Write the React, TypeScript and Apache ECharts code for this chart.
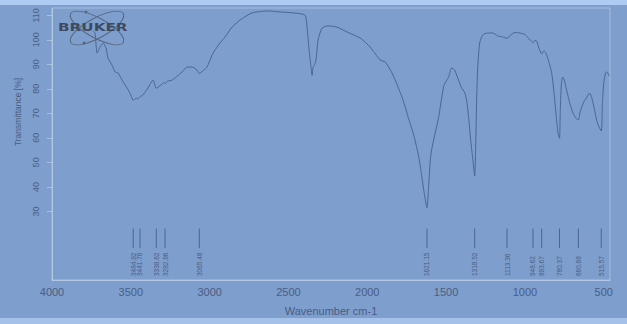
import { useEffect, useRef } from "react";
import * as echarts from "echarts";

// IR spectrum (wavenumber cm-1, transmittance %)
const wavenumbers = [
  3740, 3727, 3714, 3695, 3676, 3657, 3645, 3619, 3600, 3581, 3556, 3524, 3500, 3484.92, 3465, 3455, 3441.76, 3423,
  3391, 3359, 3338.62, 3315, 3300, 3290, 3282.96, 3265, 3240, 3220, 3175, 3143, 3112, 3085, 3065.48, 3040, 3017,
  2978, 2934, 2902, 2858, 2807, 2731, 2636, 2553, 2471, 2395, 2382, 2369, 2357, 2350, 2344, 2337, 2325, 2312, 2287,
  2249, 2192, 2128, 2046, 1982, 1919, 1887, 1843, 1805, 1773, 1741, 1709, 1678, 1660, 1640, 1621.15, 1612, 1600,
  1592, 1579, 1547, 1516, 1503, 1484, 1465, 1446, 1421, 1402, 1383, 1370, 1357, 1344, 1332, 1318.52, 1306, 1299,
  1287, 1268, 1236, 1204, 1172, 1141, 1113.36, 1094, 1062, 1031, 1000, 975, 960, 948.62, 938, 925, 910, 893.67,
  880, 868, 850, 830, 815, 800, 790, 780.37, 775, 768, 760, 750, 735, 715, 695, 675, 660.68, 650, 630, 610, 590,
  575, 558, 540, 515.57, 508, 500, 488, 478, 465,
];
const transmittance = [
  103.5, 102.8, 94.6, 97.1, 98.7, 96.7, 92.6, 89.7, 86.9, 86.5, 83.6, 80.4, 77.5, 75.3, 76.2, 75.9, 76.8, 77.5,
  80.4, 83.6, 80.2, 81.3, 82.0, 82.6, 82.3, 83.2, 83.5, 84.4, 86.9, 88.9, 88.9, 88.0, 86.3, 87.5, 88.9,
  94.6, 98.7, 101.2, 105.2, 108.1, 111.0, 111.8, 111.4, 111.0, 110.1, 105.2, 95.9, 88.9, 85.5, 88.9, 89.5, 91.8, 99.9, 104.8,
  105.7, 105.2, 103.2, 100.8, 97.1, 91.8, 91.0, 86.5, 80.8, 75.5, 68.5, 62.0, 53.8, 47.0, 38.0, 31.5, 38.5, 51.0,
  55.0, 59.1, 68.5, 80.8, 82.8, 84.8, 88.5, 87.7, 83.6, 80.4, 78.7, 75.5, 68.5, 59.1, 52.2, 44.5, 75.5, 88.9,
  98.7, 102.0, 102.8, 102.8, 101.6, 101.2, 100.6, 101.8, 103.0, 102.8, 102.2, 100.5, 99.5, 98.8, 99.8, 99.5, 96.5, 94.2,
  95.5, 94.8, 91.5, 86.5, 78.3, 68.0, 62.0, 59.8, 72.0, 82.5, 84.8, 83.6, 79.5, 74.2, 70.2, 68.0, 67.3, 70.5, 74.2, 76.3, 78.3,
  76.3, 71.4, 66.1, 62.8, 74.0, 82.4, 86.5, 86.9, 85.2,
];
const peakWavenumbers = [3484.92, 3441.76, 3338.62, 3282.96, 3065.48, 1621.15, 1318.52, 1113.36, 948.62, 893.67, 780.37, 660.68, 515.57];
const peakLabels = ["3484.92", "3441.76", "3338.62", "3282.96", "3065.48", "1621.15", "1318.52", "1113.36", "948.62", "893.67", "780.37", "660.68", "515.57"];
const xTickLabels = [4000, 3500, 3000, 2500, 2000, 1500, 1000, 500];
const yTickLabels = [30, 40, 50, 60, 70, 80, 90, 100, 110];

const TEXT = "#4a5d82";
const LINE = "#4b6794";
const FRAME = "rgba(205,218,238,0.55)";
const FONT = "Liberation Sans, Arial, sans-serif";

export default function App() {
  const ref = useRef<HTMLDivElement>(null);
  useEffect(() => {
    if (!ref.current) return;
    const chart = echarts.init(ref.current, null, { renderer: "svg" });
    const spectrum = wavenumbers.map((w, i) => [w, transmittance[i]]);
    chart.setOption({
      animation: false,
      backgroundColor: "#7e9ecd",
      textStyle: { fontFamily: FONT },
      grid: { left: 52, right: 17, top: 8, bottom: 44, show: true, borderColor: FRAME, borderWidth: 1 },
      xAxis: {
        type: "value",
        min: 460,
        max: 4000,
        inverse: true,
        name: "Wavenumber cm-1",
        nameLocation: "middle",
        nameGap: 25,
        nameTextStyle: { color: TEXT, fontSize: 11, fontFamily: FONT },
        axisLine: { show: true, lineStyle: { color: FRAME } },
        axisTick: { show: false },
        splitLine: { show: false },
        axisLabel: {
          customValues: xTickLabels,
          formatter: (v: number) => String(v),
          color: TEXT,
          fontSize: 11,
          margin: 6,
          fontFamily: FONT,
        },
      },
      yAxis: {
        type: "value",
        min: 2,
        max: 113,
        axisLine: { show: true, lineStyle: { color: FRAME } },
        axisTick: { show: true, customValues: yTickLabels, length: 5, lineStyle: { color: FRAME } },
        splitLine: { show: false },
        axisLabel: { customValues: yTickLabels, formatter: (v: number) => String(v), color: TEXT, fontSize: 9, rotate: 90, margin: 12, fontFamily: FONT },
      },
      graphic: [
        { type: "rect", left: 0, top: 0, shape: { width: 627, height: 5 }, style: { fill: "#aecbf3" }, silent: true },
        { type: "rect", left: 0, top: 318, shape: { width: 627, height: 6 }, style: { fill: "#a5c1e9" }, silent: true },
        {
          type: "text",
          x: 18,
          y: 112,
          rotation: Math.PI / 2,
          style: { text: "Transmittance [%]", fill: TEXT, fontSize: 8.5, fontFamily: FONT, align: "center", verticalAlign: "middle" },
        },
        {
          type: "group",
          children: [
            { type: "ellipse", x: 97, y: 28, rotation: 0.5, shape: { cx: 0, cy: 0, rx: 30, ry: 10 }, style: { fill: "none", stroke: "#58667d", lineWidth: 1 } },
            { type: "ellipse", x: 97, y: 28, rotation: -0.5, shape: { cx: 0, cy: 0, rx: 30, ry: 10 }, style: { fill: "none", stroke: "#58667d", lineWidth: 1 } },
            { type: "circle", shape: { cx: 86, cy: 12, r: 1.5 }, style: { fill: "#58667d" } },
            { type: "circle", shape: { cx: 84, cy: 43, r: 1.5 }, style: { fill: "#58667d" } },
            {
              type: "text",
              x: 58,
              y: 27,
              scaleX: 1.45,
              style: { text: "BRUKER", fill: "#3e4a5e", fontSize: 10.5, fontWeight: "bold", fontFamily: "DejaVu Sans, sans-serif", verticalAlign: "middle", align: "left" },
            },
          ],
        },
      ],
      series: [
        {
          type: "line",
          data: spectrum,
          showSymbol: false,
          smooth: 0.2,
          lineStyle: { color: LINE, width: 1 },
          z: 3,
        },
        {
          type: "custom",
          data: peakWavenumbers.map((w, i) => [w, i]),
          encode: { x: 0 },
          renderItem: (_params: any, api: any) => {
            const w = api.value(0);
            const idx = api.value(1);
            const top = api.coord([w, 23]);
            const bot = api.coord([w, 15]);
            const tp = api.coord([w, 3.6]);
            return {
              type: "group",
              children: [
                { type: "line", shape: { x1: top[0], y1: top[1], x2: bot[0], y2: bot[1] }, style: { stroke: LINE, lineWidth: 1 } },
                {
                  type: "text",
                  x: tp[0],
                  y: tp[1],
                  rotation: Math.PI / 2,
                  style: { text: peakLabels[idx], fill: TEXT, fontSize: 6.5, fontFamily: FONT, align: "left", verticalAlign: "middle" },
                },
              ],
            };
          },
          z: 3,
        },
      ],
    });
    return () => chart.dispose();
  }, []);
  return <div ref={ref} style={{ position: "absolute", left: 0, top: 0, width: 627, height: 324 }} />;
}
